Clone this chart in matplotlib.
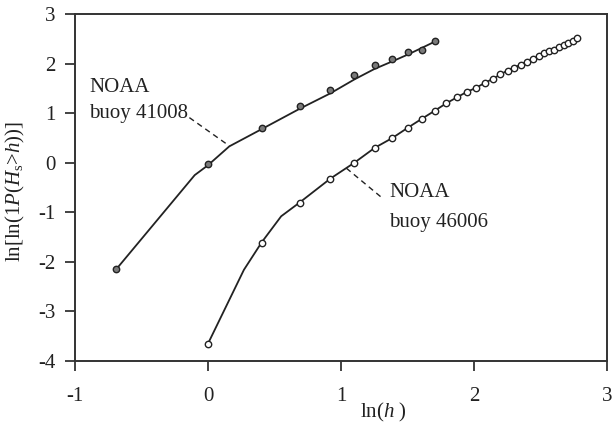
import matplotlib
matplotlib.use('Agg')
import matplotlib.pyplot as plt
import numpy as np

plt.rcParams['font.family'] = ['Liberation Serif', 'DejaVu Serif']
plt.rcParams['mathtext.fontset'] = 'custom'
plt.rcParams['mathtext.rm'] = 'Liberation Serif'
plt.rcParams['mathtext.it'] = 'Liberation Serif:italic'
plt.rcParams['axes.unicode_minus'] = False

# buoy 41008 (filled markers), h = 0.5, 1, 1.5, ... 5.5 m
h_41008 = [0.5, 1.0, 1.5, 2.0, 2.5, 3.0, 3.5, 4.0, 4.5, 5.0, 5.5]
y_41008 = [-2.15, -0.03, 0.71, 1.14, 1.46, 1.76, 1.97, 2.09, 2.24, 2.27, 2.46]
# smooth model curve for 41008
fit41_x = [-0.69, -0.10, 0.0, 0.16, 0.405, 0.69, 0.92, 1.10, 1.25, 1.39, 1.50, 1.61, 1.71]
fit41_y = [-2.15, -0.25, -0.05, 0.33, 0.68, 1.09, 1.40, 1.68, 1.89, 2.05, 2.18, 2.32, 2.45]

# buoy 46006 (open markers), h = 1, 1.5, ... 16 m
h_46006 = [1.0, 1.5, 2.0, 2.5, 3.0, 3.5, 4.0, 4.5, 5.0, 5.5, 6.0, 6.5, 7.0, 7.5, 8.0, 8.5,
           9.0, 9.5, 10.0, 10.5, 11.0, 11.5, 12.0, 12.5, 13.0, 13.5, 14.0, 14.5, 15.0, 15.5, 16.0]
y_46006 = [-3.65, -1.62, -0.82, -0.33, 0.00, 0.30, 0.50, 0.71, 0.89, 1.05, 1.20, 1.32, 1.43, 1.51,
           1.61, 1.69, 1.78, 1.86, 1.92, 1.98, 2.04, 2.09, 2.15, 2.21, 2.26, 2.27, 2.33, 2.37,
           2.41, 2.46, 2.52]
# smooth model curve for 46006 (start section)
fit46_x = [0.0, 0.27, 0.405, 0.55, 0.69, 0.92, 1.10]
fit46_y = [-3.65, -2.16, -1.60, -1.08, -0.80, -0.32, 0.00]

x41 = np.log(h_41008)
x46 = np.log(h_46006)

fs = 15
fig = plt.figure(figsize=(6.12, 4.25), dpi=100)
ax = fig.add_axes([0.1225, 0.1506, 0.8695, 0.8164])

ax.plot(fit41_x, fit41_y, color='#222222', lw=1.3, zorder=2)
ax.plot(x41, y_41008, 'o', ms=4.6, mfc='#7a7a7a', mec='#222222', mew=1.0, zorder=3)

ax.plot(fit46_x, fit46_y, color='#222222', lw=1.3, zorder=2)
ax.plot([fit46_x[-1], x46[5]], [fit46_y[-1], y_46006[5]], color='#222222', lw=1.3, zorder=2)
ax.plot(x46[5:], y_46006[5:], color='#222222', lw=1.3, zorder=2)
ax.plot(x46, y_46006, 'o', ms=4.6, mfc='white', mec='#222222', mew=1.0, zorder=3)

# labels with dashed leaders
ax.text(-0.895, 1.43, 'NOAA', fontsize=fs, color='#222222')
ax.text(-0.895, 0.90, 'buoy 41008', fontsize=fs, color='#222222')
ax.plot([-0.14, 0.16], [0.91, 0.34], ls=(0, (4, 3)), color='#222222', lw=1.0)

ax.text(1.36, -0.69, 'NOAA', fontsize=fs, color='#222222')
ax.text(1.36, -1.29, 'buoy 46006', fontsize=fs, color='#222222')
ax.plot([1.04, 1.30], [-0.11, -0.69], ls=(0, (4, 3)), color='#222222', lw=1.0)

ax.set_xlim(-1, 3)
ax.set_ylim(-4, 3)
ax.set_xticks([-1, 0, 1, 2, 3])
ax.set_yticks([-4, -3, -2, -1, 0, 1, 2, 3])
ax.tick_params(direction='out', length=7, width=1.2, labelsize=fs, colors='#222222')
ax.tick_params(axis='x', pad=12)
ax.tick_params(axis='y', pad=7)
for s in ax.spines.values():
    s.set_linewidth(1.4)
    s.set_color('#333333')

ax.set_xlabel(r'ln($\mathit{h}$ )', fontsize=fs, color='#222222')
ax.xaxis.set_label_coords(0.579, -0.115)
ax.set_ylabel(r'ln[ln(1$\mathit{P}$($\mathit{H}_{\rm s}$>$\mathit{h}$))]', fontsize=fs, color='#222222')
ax.yaxis.set_label_coords(-0.09, 0.49)

fig.savefig('out.png', dpi=100)
